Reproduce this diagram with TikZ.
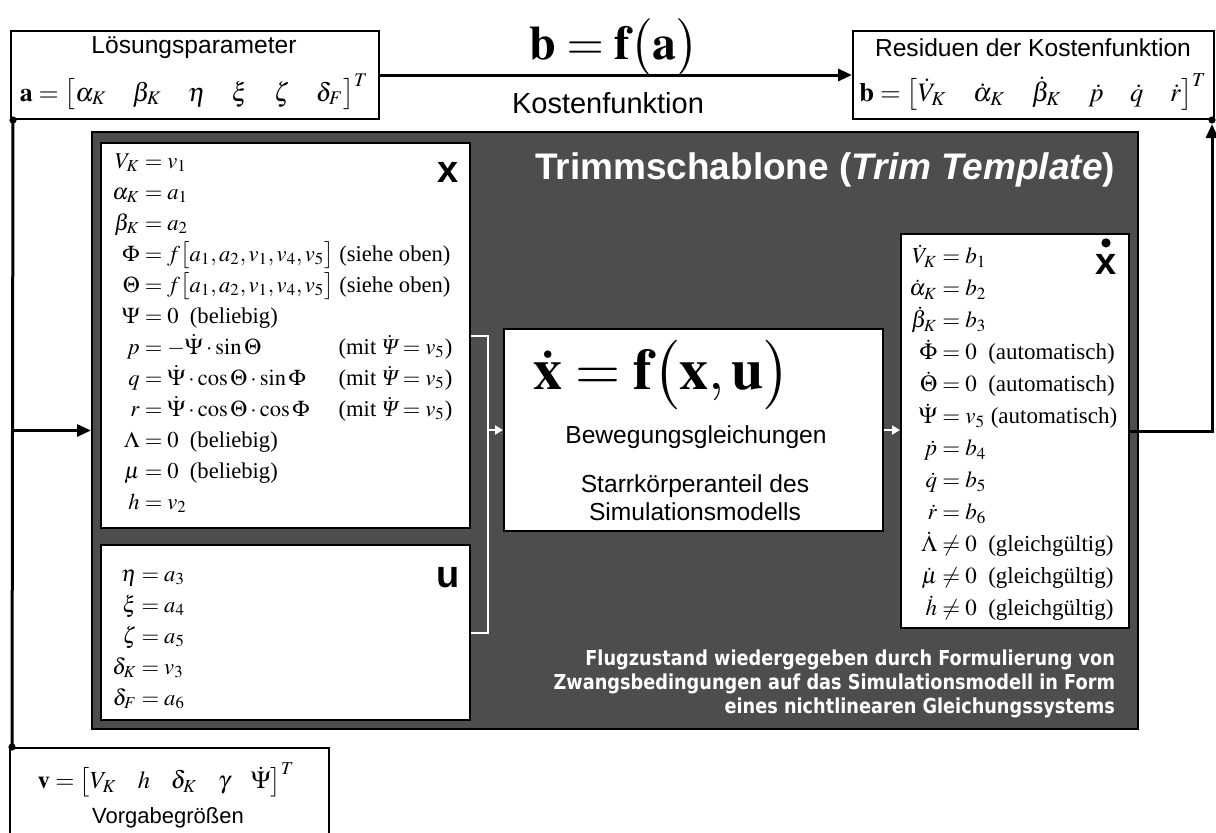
\documentclass[tikz,border=0pt]{standalone}
\usepackage{mathptmx}
\usepackage[no-math]{fontspec}
\setmainfont{Liberation Serif}
\setsansfont{Liberation Sans}
\newfontfamily\hinweisfont[FakeStretch=0.86]{DejaVu Sans}
\usetikzlibrary{arrows.meta}
\definecolor{panelgrau}{RGB}{77,77,77}
\newcommand{\mitpsi}{\dot{\mbox{\itshape Ψ}}}
\tikzset{
  kasten/.style={draw, fill=white, line width=1pt, inner sep=0pt, anchor=north west},
  pfeil/.style={line width=1.5pt, -{Triangle[length=7pt,width=6pt]}},
  wpfeil/.style={white, line width=1pt, -{Triangle[length=4pt,width=4.5pt]}},
  beschr/.style={font=\sffamily\fontsize{12.3}{14}\selectfont},
  gleich/.style={font=\fontsize{11.3}{15.5}\selectfont, anchor=north west, inner sep=0pt},
  marke/.style={font=\sffamily\bfseries\fontsize{19}{20}\selectfont},
}
\begin{document}
\begin{tikzpicture}[x=0.5pt,y=-0.5pt]
  \useasboundingbox (0,0) rectangle (1216,832);
  % Kostenfunktion oben
  \node[kasten, minimum width=184pt, minimum height=44pt] (loes) at (10,30) {};
  \node[beschr] (loestxt) at (194,48) {Lösungsparameter};
  \node[font=\fontsize{13}{15}\selectfont] (avec) at (194,92)
    {$\mathbf{a}=\bigl[\alpha_K\quad\beta_K\quad\eta\quad\xi\quad\zeta\quad\delta_F\bigr]^T$};
  \node[kasten, minimum width=180.5pt, minimum height=44pt] (resid) at (852,30) {};
  \node[beschr] (residtxt) at (1033,48) {Residuen der Kostenfunktion};
  \node[font=\fontsize{13.3}{15}\selectfont] (bvec) at (1033,92)
    {$\mathbf{b}=\bigl[\dot V_K\quad\dot\alpha_K\quad\dot\beta_K\quad\dot p\quad\dot q\quad\dot r\bigr]^T$};
  \node[font=\fontsize{24}{28}\selectfont, inner sep=0pt] (kostgl) at (614,47) {$\mathbf{b}=\mathbf{f}\bigl(\mathbf{a}\bigr)$};
  \node[font=\sffamily\fontsize{14.5}{16}\selectfont] (kosttxt) at (608,103) {Kostenfunktion};
  \draw[pfeil] (loes.east) -- (resid.west);

  % Trimmschablone
  \node[draw, fill=panelgrau, line width=1pt, inner sep=0pt, anchor=north west,
    minimum width=523pt, minimum height=298.5pt] (schab) at (91,131) {};
  \node[anchor=east, text=white, font=\sffamily\bfseries\fontsize{18.5}{22}\selectfont] (titel)
    at (1122,170) {Trimmschablone (\textit{Trim Template})};

  % Zustandsvektor x
  \node[kasten, minimum width=184.5pt, minimum height=192.5pt] (xbox) at (100,142) {};
  \node[marke] (xlbl) at (448,172) {x};
  \node[gleich] (xgl) at (112,146) {\begin{tabular}{@{}r@{}l@{}}
    $V_K$ & ${}=v_1$\\
    $\alpha_K$ & ${}=a_1$\\
    $\beta_K$ & ${}=a_2$\\
    $\Phi$ & ${}=f\bigl[a_1,a_2,v_1,v_4,v_5\bigr]$ (siehe oben)\\
    $\Theta$ & ${}=f\bigl[a_1,a_2,v_1,v_4,v_5\bigr]$ (siehe oben)\\
    $\Psi$ & ${}=0$\ \ (beliebig)\\
    $p$ & \makebox[8.8em][l]{${}=-\dot\Psi\cdot\sin\Theta$}(mit $\mitpsi=v_5$)\\
    $q$ & \makebox[8.8em][l]{${}=\dot\Psi\cdot\cos\Theta\cdot\sin\Phi$}(mit $\mitpsi=v_5$)\\
    $r$ & \makebox[8.8em][l]{${}=\dot\Psi\cdot\cos\Theta\cdot\cos\Phi$}(mit $\mitpsi=v_5$)\\
    $\Lambda$ & ${}=0$\ \ (beliebig)\\
    $\mu$ & ${}=0$\ \ (beliebig)\\
    $h$ & ${}=v_2$
  \end{tabular}};

  % Steuervektor u
  \node[kasten, minimum width=184.5pt, minimum height=87.5pt] (ubox) at (100,544) {};
  \node[marke] (ulbl) at (448,578) {u};
  \node[gleich] (ugl) at (112,559) {\begin{tabular}{@{}r@{}l@{}}
    $\eta$ & ${}=a_3$\\
    $\xi$ & ${}=a_4$\\
    $\zeta$ & ${}=a_5$\\
    $\delta_K$ & ${}=v_3$\\
    $\delta_F$ & ${}=a_6$
  \end{tabular}};

  % Bewegungsgleichungen
  \node[kasten, minimum width=189.5pt, minimum height=101pt] (dgl) at (503,328) {};
  \node[font=\fontsize{29}{32}\selectfont] (dgltxt) at (662,375) {$\mathbf{\dot x=f\bigl(x,u\bigr)}$};
  \node[beschr] (beweg) at (696,437) {Bewegungsgleichungen};
  \node[beschr, align=center] (starr) at (695,498) {Starrkörperanteil des\\Simulationsmodells};

  % Ableitungen xdot
  \node[kasten, minimum width=114pt, minimum height=197pt] (xdot) at (900,233) {};
  \node[marke] (xdlbl) at (1106,264) {x};
  \fill ([yshift=2pt]xdlbl.north) circle (2.3pt);
  \node[gleich, font=\fontsize{11.5}{16}\selectfont] (xdgl) at (909,241) {\begin{tabular}{@{}r@{}l@{}}
    $\dot V_K$ & ${}=b_1$\\
    $\dot\alpha_K$ & ${}=b_2$\\
    $\dot\beta_K$ & ${}=b_3$\\
    $\dot\Phi$ & ${}=0$\ \ (automatisch)\\
    $\dot\Theta$ & ${}=0$\ \ (automatisch)\\
    $\dot\Psi$ & ${}=v_5$\ (automatisch)\\
    $\dot p$ & ${}=b_4$\\
    $\dot q$ & ${}=b_5$\\
    $\dot r$ & ${}=b_6$\\
    $\dot\Lambda$ & ${}\neq0$\ \ (gleichgültig)\\
    $\dot\mu$ & ${}\neq0$\ \ (gleichgültig)\\
    $\dot h$ & ${}\neq0$\ \ (gleichgültig)
  \end{tabular}};

  \node[anchor=east, align=right, text=white, font=\hinweisfont\bfseries\fontsize{10.3}{12}\selectfont] (hinweis)
    at (1122,684) {Flugzustand wiedergegeben durch Formulierung von\\Zwangsbedingungen auf das Simulationsmodell in Form\\eines nichtlinearen Gleichungssystems};

  % Vorgabegroessen
  \node[kasten, minimum width=159.5pt, minimum height=50pt] (vbox) at (9,747) {};
  \node[font=\fontsize{12.3}{15}\selectfont] (vvec) at (166,780)
    {$\mathbf{v}=\bigl[V_K\hspace{0.85em}h\hspace{0.85em}\delta_K\hspace{0.85em}\gamma\hspace{0.85em}\dot\Psi\bigr]^T$};
  \node[font=\sffamily\fontsize{11}{13}\selectfont] (vorgabe) at (168,818) {Vorgabegrößen};

  % Verbindungen
  \draw[white, line width=1pt] (xbox.east) -- ++(17,0) coordinate (kl) |- (ubox.east);
  \draw[wpfeil] (kl |- dgl.west) -- (dgl.west);
  \draw[wpfeil] (dgl.east) -- (dgl.east -| xdot.west);
  \coordinate (lpunkt) at ([xshift=1.5pt]loes.south west);
  \coordinate (upunkt) at ([xshift=1.5pt]vbox.north west);
  \coordinate (rpunkt) at ([xshift=-1.5pt]resid.south east);
  \draw[line width=1.5pt] (lpunkt) -- (upunkt);
  \draw[pfeil] (lpunkt |- schab.west) -- (schab.west);
  \draw[pfeil, shorten >=2pt] (xdot.east) -| (rpunkt);
  \foreach \P in {lpunkt,upunkt,rpunkt} \fill (\P) circle (1.8pt);
\end{tikzpicture}
\end{document}
